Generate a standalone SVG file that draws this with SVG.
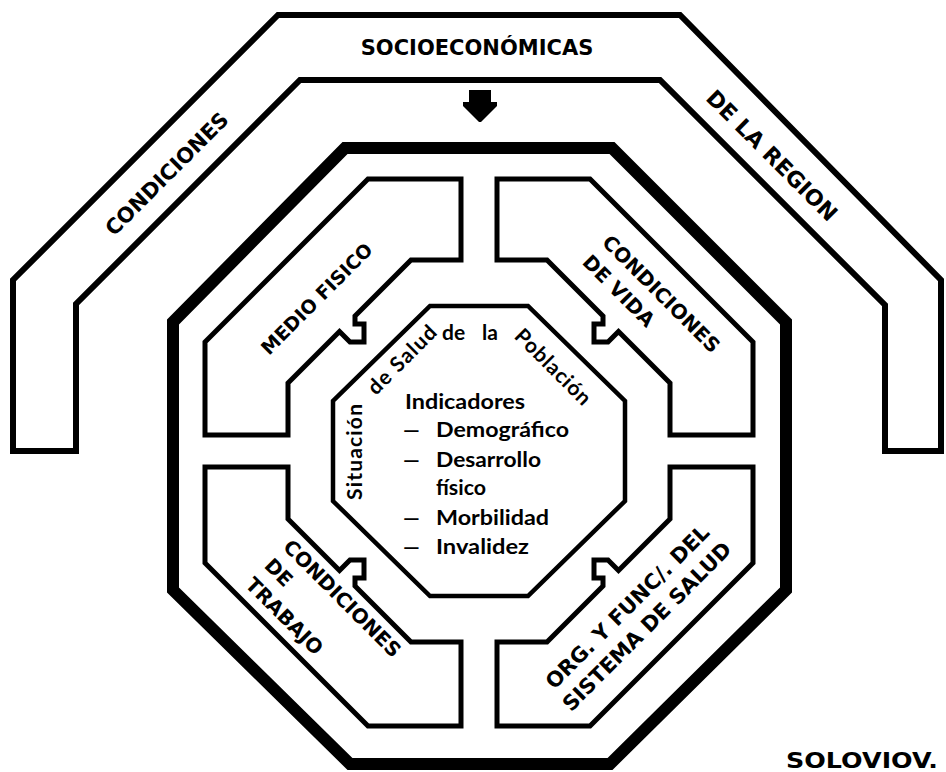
<svg xmlns="http://www.w3.org/2000/svg" width="946" height="772" viewBox="0 0 946 772">
<style>
.band{fill:none;stroke:#000;stroke-width:6;stroke-linejoin:miter}
.main{fill:none;stroke:#000;stroke-width:12;stroke-linejoin:miter}
.quad{fill:none;stroke:#000;stroke-width:5;stroke-linejoin:miter}
.core{fill:none;stroke:#000;stroke-width:4.5;stroke-linejoin:miter}
.cap{font-family:"DejaVu Sans","Liberation Sans",sans-serif;font-weight:bold;fill:#000}
.low{font-family:Lato,"Liberation Sans",sans-serif;font-weight:bold;fill:#000}
</style>
<rect width="946" height="772" fill="#fff"/>

<g id="condiciones-region">
  <path class="band" d="M13,451 L13,280 L278,15 L680,15 L941,280 L941,451 L885,451 L885,305 L660,80 L300,80 L76,304 L76,451 Z"/>
  <text class="cap" x="477" y="55" font-size="21" text-anchor="middle">SOCIOECONÓMICAS</text>
  <text class="cap" font-size="21" text-anchor="middle" transform="translate(172,179) rotate(-45)">CONDICIONES</text>
  <text class="cap" font-size="22" text-anchor="middle" transform="translate(766.5,161) rotate(45)">DE LA REGION</text>
</g>

<g id="sistema">
  <path class="main" d="M345,148 L612,148 L786,322 L786,590 L610,764 L350,764 L173,590 L173,322 Z"/>
</g>

<g id="medio-fisico">
  <path class="quad" d="M461,179 L368,179 L205,342 L205,435 L288,435 L288,383 L339.5,331.5 L350,342 L364,342 L364,324 L355,324 L355,316 L411,260 L461,260 Z"/>
  <text class="cap" font-size="19" text-anchor="middle" transform="translate(321.5,303.5) rotate(-45)">MEDIO FISICO</text>
</g>

<g id="condiciones-vida">
  <path class="quad" d="M497,179 L590,179 L753,342 L753,435 L670,435 L670,383 L618.5,331.5 L608,342 L594,342 L594,324 L603,324 L603,316 L547,260 L497,260 Z"/>
  <g class="cap" font-size="20" transform="translate(601,243.5) rotate(45)">
    <text x="0" y="0">CONDICIONES</text>
    <text x="0" y="28">DE VIDA</text>
  </g>
</g>

<g id="condiciones-trabajo">
  <path class="quad" d="M461,726 L368,726 L205,563 L205,467 L288,467 L288,519 L339.5,570.5 L350,560 L364,560 L364,578 L355,578 L355,586 L411,642 L461,642 Z"/>
  <g class="cap" font-size="20" transform="translate(282,548) rotate(45)">
    <text x="0" y="0">CONDICIONES</text>
    <text x="0" y="26.7">DE</text>
    <text x="0" y="53.4">TRABAJO</text>
  </g>
</g>

<g id="org-sistema-salud">
  <path class="quad" d="M497,726 L590,726 L753,563 L753,467 L670,467 L670,519 L618.5,570.5 L608,560 L594,560 L594,578 L603,578 L603,586 L547,642 L497,642 Z"/>
  <g class="cap" font-size="21" text-anchor="middle" transform="translate(632.5,612) rotate(-45)">
    <text x="0" y="0">ORG. Y FUNC/. DEL</text>
    <text x="0" y="27.6">SISTEMA DE SALUD</text>
  </g>
</g>

<g id="situacion-salud">
  <path class="core" d="M430,306 L528,306 L625,401 L625,501 L528,596 L430,596 L333,501 L333,401 Z"/>
  <text class="low" font-size="21" text-anchor="middle" textLength="96" transform="translate(362,452) rotate(-90)">Situación</text>
  <text class="low" font-size="21" text-anchor="middle" textLength="88" transform="translate(407,365) rotate(-45)">de Salud</text>
  <text class="low" font-size="21" x="442" y="340">de</text>
  <text class="low" font-size="21" x="482" y="340">la</text>
  <text class="low" font-size="21" text-anchor="middle" textLength="98" transform="translate(548,372) rotate(45)">Población</text>
  <g class="low" font-size="21">
    <text x="405" y="409" textLength="120" lengthAdjust="spacingAndGlyphs">Indicadores</text>
    <text x="403" y="437">—</text>
    <text x="436" y="437" textLength="133" lengthAdjust="spacingAndGlyphs">Demográfico</text>
    <text x="403" y="467">—</text>
    <text x="436" y="467" textLength="105" lengthAdjust="spacingAndGlyphs">Desarrollo</text>
    <text x="436" y="495" textLength="50" lengthAdjust="spacingAndGlyphs">físico</text>
    <text x="403" y="525">—</text>
    <text x="436" y="525" textLength="113" lengthAdjust="spacingAndGlyphs">Morbilidad</text>
    <text x="403" y="554">—</text>
    <text x="436" y="554" textLength="93" lengthAdjust="spacingAndGlyphs">Invalidez</text>
  </g>
</g>

<g id="connectors">
  <polygon fill="#000" points="469,90 491,90 491,102 497,102 497,106 481,122 479,122 463,106 463,102 469,102"/>
</g>

<text class="cap" x="786" y="768" font-size="21" textLength="152" lengthAdjust="spacingAndGlyphs">SOLOVIOV.</text>
</svg>
